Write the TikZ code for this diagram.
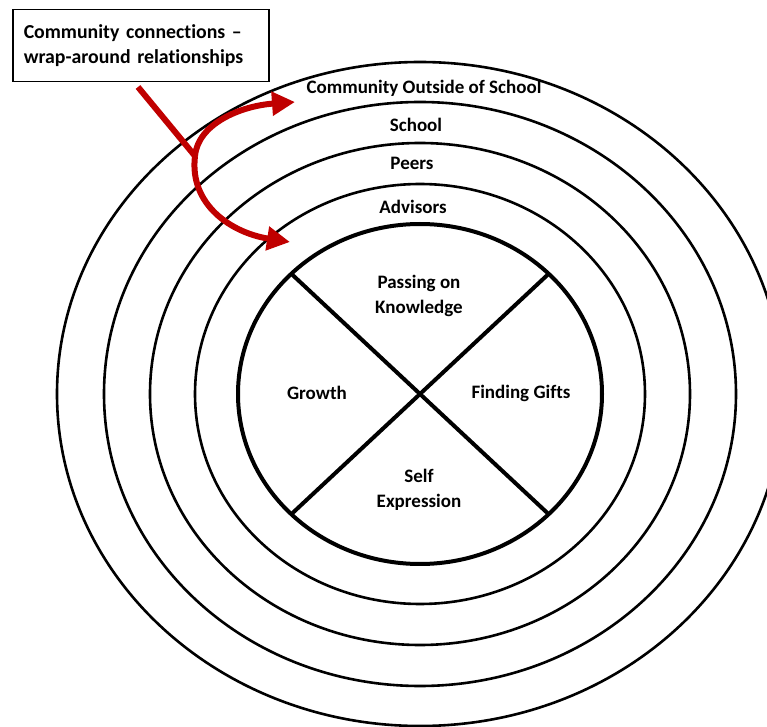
\documentclass[tikz,border=0pt]{standalone}
\usepackage{fontspec}
\setmainfont{Carlito}[Ligatures={TeX,NoCommon}]
\usetikzlibrary{arrows.meta}
\definecolor{wraparound}{RGB}{192,0,0}

\begin{document}
\begin{tikzpicture}[x=0.5pt,y=-0.5pt,
  ring/.style={line width=1.3pt},
  core/.style={line width=2pt},
  lbl/.style={font=\bfseries\fontsize{9.5}{12.5}\selectfont,align=center,inner sep=0pt},
  wrap/.style={draw=wraparound,line width=3pt,-{Triangle[length=11.5pt,width=11.5pt]}}]

\useasboundingbox (0,0) rectangle (767,727);
\clip (0,0) rectangle (767,727);

\coordinate (c) at (420,394);

% rings, outer to inner
\foreach \rx/\ry in {363/332,316/292,270/251,225/210}
  \draw[ring] (c) ellipse [x radius=\rx, y radius=\ry];
\draw[core] (c) ellipse [x radius=182, y radius=170];

% the cross through the middle
\path (c) ++(-45:182 and 170) coordinate (ne)
      (c) ++(-135:182 and 170) coordinate (nw)
      (c) ++(45:182 and 170) coordinate (se)
      (c) ++(135:182 and 170) coordinate (sw);
\draw[core] (nw) -- (se);
\draw[core] (ne) -- (sw);

\node[lbl] (outside) at (424,88) {Community Outside of School};
\node[lbl] (school) at (416,125) {School};
\node[lbl] (peers) at (412,163) {Peers};
\node[lbl] (advisors) at (413,207) {Advisors};

\node[lbl] (passing) at (419,296) {Passing on\\Knowledge};
\node[lbl] (growth) at (317,393) {Growth};
\node[lbl] (gifts) at (521,393) {Finding Gifts};
\node[lbl] (selfexp) at (419,490) {Self\\Expression};

\node[draw,line width=0.75pt,anchor=north west,text width=117pt,inner xsep=5.5pt,
  minimum height=36pt,align=left,font=\bfseries\fontsize{9.9}{12.5}\selectfont]
  (commbox) at (12,9) {Community connections –\\wrap-around relationships};

% red wrap-around arrows
\coordinate (tail) at (138,87);
\coordinate (fork) at (195,156);
\coordinate (tipout) at (295,102);
\coordinate (tipin) at (290,242);
\draw[draw=wraparound,line width=3pt] (tail) -- (fork);
\draw[wrap] (fork) .. controls (198,124) and (240,106) .. (tipout);
\draw[wrap] (fork) .. controls (189,205) and (232,233) .. (tipin);

\end{tikzpicture}
\end{document}
